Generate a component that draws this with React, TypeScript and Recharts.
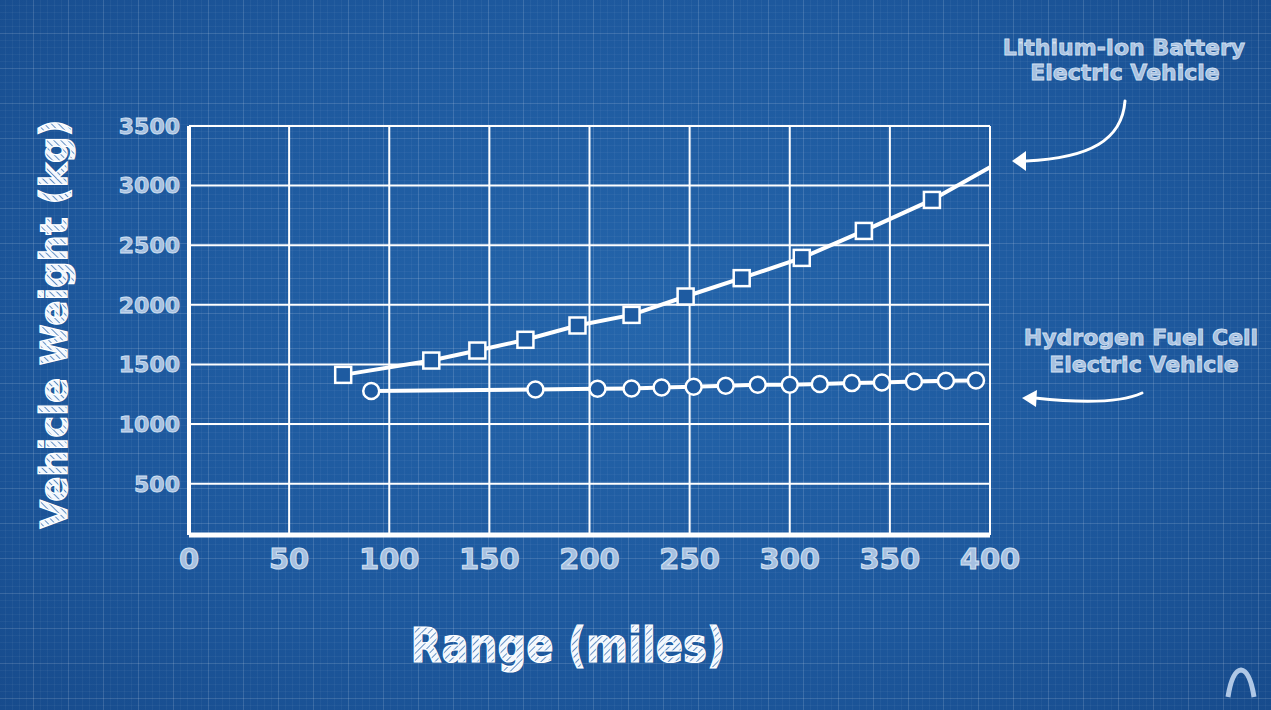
import React from 'react';
import {
    LineChart,
    Line,
    XAxis,
    YAxis,
    CartesianGrid,
} from 'recharts';

// range (miles) vs vehicle weight (kg)
const liIonRange = [77, 121, 144, 168, 194, 221, 248, 276, 306, 337, 371, 400];
const liIonWeight = [1413, 1533, 1617, 1707, 1827, 1916, 2070, 2224, 2394, 2620, 2880, 3155];

const fuelCellRange = [91, 173, 204, 221, 236, 252, 268, 284, 300, 315, 331, 346, 362, 378, 393];
const fuelCellWeight = [1277, 1290, 1296, 1299, 1307, 1313, 1321, 1330, 1330, 1336, 1344, 1349, 1357, 1363, 1366];

const xTicks = [0, 50, 100, 150, 200, 250, 300, 350, 400];
const yTicks = [500, 1000, 1500, 2000, 2500, 3000, 3500];

const liIonData = liIonRange.map((range, i) => ({ range, weight: liIonWeight[i] }));
const fuelCellData = fuelCellRange.map((range, i) => ({ range, weight: fuelCellWeight[i] }));

const W = 1271;
const H = 710;
const BG = '#1e5ba1';
const FONT = '"DejaVu Sans", Verdana, sans-serif';
const LABEL_FILL = '#a6c0e0';
const LABEL_STROKE = '#d3e1f2';

const SquareDot = (props: any) => {
    const { cx, cy, index } = props;
    // last point only continues the line, no marker
    if (index === liIonData.length - 1 || cx == null) return <g key={`sq-${index}`} />;
    return (
        <rect
            key={`sq-${index}`}
            x={cx - 8}
            y={cy - 8}
            width={16}
            height={16}
            fill={BG}
            stroke="#ffffff"
            strokeWidth={2.5}
        />
    );
};

const CircleDot = (props: any) => {
    const { cx, cy, index } = props;
    if (cx == null) return <g key={`ci-${index}`} />;
    return (
        <circle
            key={`ci-${index}`}
            cx={cx}
            cy={cy}
            r={8}
            fill={BG}
            stroke="#ffffff"
            strokeWidth={2.5}
        />
    );
};

const annotationText = {
    fontFamily: FONT,
    fontWeight: 700,
    fontSize: 22,
    fill: LABEL_FILL,
    stroke: LABEL_STROKE,
    strokeWidth: 0.8,
    textAnchor: 'middle' as const,
};

export default function App() {
    return (
        <div
            style={{
                position: 'fixed',
                left: 0,
                top: 0,
                width: W,
                height: H,
                overflow: 'hidden',
                backgroundColor: BG,
                backgroundImage: [
                    'linear-gradient(rgba(255,255,255,0.10) 1px, transparent 1px)',
                    'linear-gradient(90deg, rgba(255,255,255,0.10) 1px, transparent 1px)',
                    'linear-gradient(rgba(255,255,255,0.04) 1px, transparent 1px)',
                    'linear-gradient(90deg, rgba(255,255,255,0.04) 1px, transparent 1px)',
                    'radial-gradient(ellipse at 50% 45%, #2465ab 0%, #1d589d 60%, #174b8c 100%)',
                ].join(','),
                backgroundSize: '35px 35px, 35px 35px, 7px 7px, 7px 7px, 100% 100%',
                backgroundPosition: '33px 33px, 33px 33px, 5px 5px, 5px 5px, 0 0',
            }}
        >
            <LineChart
                width={W}
                height={H}
                margin={{ top: 126, right: 281, bottom: 0, left: 0 }}
            >
                <CartesianGrid stroke="#ffffff" strokeWidth={2} />
                <XAxis
                    type="number"
                    dataKey="range"
                    domain={[0, 400]}
                    ticks={xTicks}
                    height={175}
                    tickLine={false}
                    tickSize={0}
                    tickMargin={13}
                    axisLine={{ stroke: '#ffffff', strokeWidth: 5 }}
                    tick={{
                        fontFamily: FONT,
                        fontWeight: 700,
                        fontSize: 29,
                        fill: LABEL_FILL,
                        stroke: LABEL_STROKE,
                        strokeWidth: 1,
                    }}
                />
                <YAxis
                    type="number"
                    dataKey="weight"
                    domain={[70, 3500]}
                    ticks={yTicks}
                    width={189}
                    tickLine={false}
                    tickSize={0}
                    tickMargin={9}
                    axisLine={{ stroke: '#ffffff', strokeWidth: 4 }}
                    tick={{
                        fontFamily: FONT,
                        fontWeight: 700,
                        fontSize: 22,
                        fill: LABEL_FILL,
                        stroke: LABEL_STROKE,
                        strokeWidth: 0.8,
                    }}
                />
                <Line
                    data={fuelCellData}
                    dataKey="weight"
                    name="Hydrogen Fuel Cell Electric Vehicle"
                    type="linear"
                    stroke="#ffffff"
                    strokeWidth={4}
                    dot={CircleDot}
                    activeDot={false}
                    isAnimationActive={false}
                />
                <Line
                    data={liIonData}
                    dataKey="weight"
                    name="Lithium-Ion Battery Electric Vehicle"
                    type="linear"
                    stroke="#ffffff"
                    strokeWidth={4}
                    dot={SquareDot}
                    activeDot={false}
                    isAnimationActive={false}
                />
            </LineChart>

            {/* titles, callouts and logo */}
            <svg
                width={W}
                height={H}
                style={{ position: 'absolute', left: 0, top: 0, pointerEvents: 'none' }}
            >
                <defs>
                    <pattern
                        id="hatch"
                        width={5}
                        height={5}
                        patternUnits="userSpaceOnUse"
                        patternTransform="rotate(45)"
                    >
                        <rect width={5} height={5} fill="#f4f8fd" />
                        <line x1={0} y1={0} x2={0} y2={5} stroke="#3b73b4" strokeWidth={1.6} />
                    </pattern>
                </defs>

                <text
                    transform="translate(67,324) rotate(-90)"
                    textAnchor="middle"
                    fontFamily={FONT}
                    fontWeight={700}
                    fontSize={37}
                    fill="url(#hatch)"
                    stroke="#ffffff"
                    strokeWidth={1.2}
                >
                    Vehicle Weight (kg)
                </text>

                <text
                    x={568}
                    y={662}
                    textAnchor="middle"
                    fontFamily={FONT}
                    fontWeight={700}
                    fontSize={48}
                    textLength={315}
                    lengthAdjust="spacingAndGlyphs"
                    fill="url(#hatch)"
                    stroke="#ffffff"
                    strokeWidth={1.2}
                >
                    Range (miles)
                </text>

                <text x={1124} y={55} {...annotationText}>Lithium-Ion Battery</text>
                <text x={1125} y={80} {...annotationText}>Electric Vehicle</text>
                <path
                    d="M1125,101 C1122,140 1090,158 1026,161"
                    fill="none"
                    stroke="#ffffff"
                    strokeWidth={3}
                    strokeLinecap="round"
                />
                <path d="M1012,161 L1026,151 L1026,171 Z" fill="#ffffff" />

                <text x={1141} y={345} {...annotationText}>Hydrogen Fuel Cell</text>
                <text x={1144} y={372} {...annotationText}>Electric Vehicle</text>
                <path
                    d="M1142,393 C1120,403 1080,403 1035,398"
                    fill="none"
                    stroke="#ffffff"
                    strokeWidth={3}
                    strokeLinecap="round"
                />
                <path d="M1022,398 L1037,390 L1036,407 Z" fill="#ffffff" />

                <path
                    d="M1228,697 Q1232,671 1241,670 Q1250,671 1254,697"
                    fill="none"
                    stroke="#b0c8e6"
                    strokeWidth={5}
                    strokeLinejoin="round"
                />
            </svg>
        </div>
    );
}
